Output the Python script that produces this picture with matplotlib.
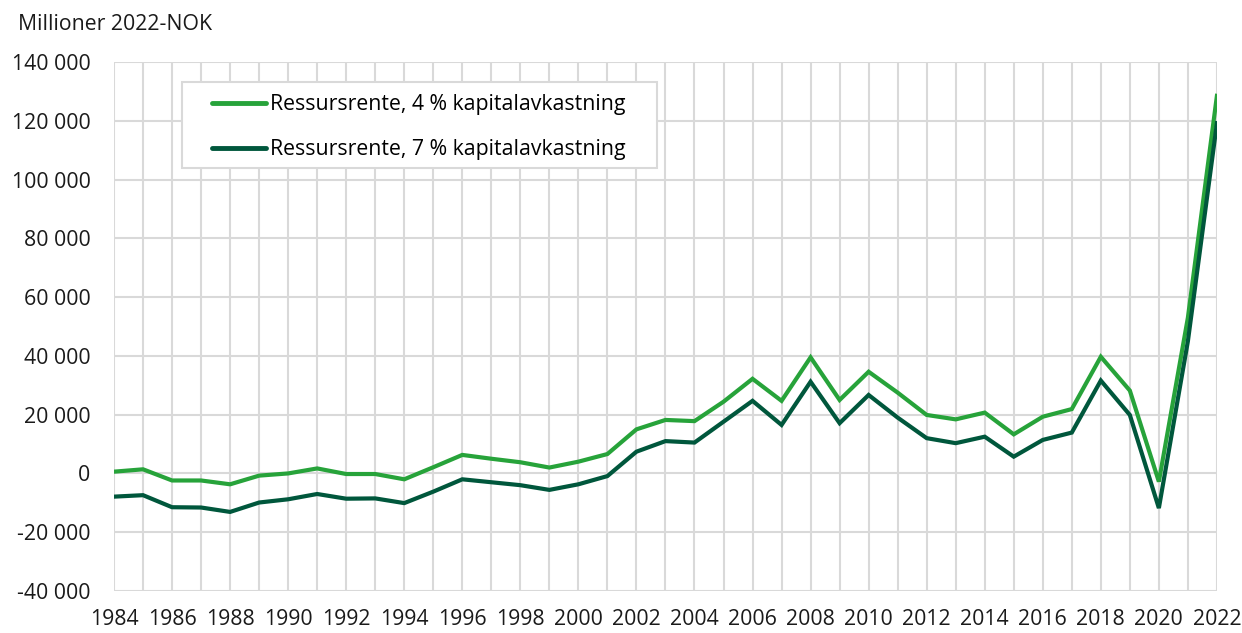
import matplotlib
matplotlib.use("Agg")
import matplotlib.pyplot as plt
from matplotlib.patches import Rectangle
from matplotlib.ticker import FuncFormatter, MultipleLocator

plt.rcParams['font.family'] = ['Open Sans', 'DejaVu Sans']

years = list(range(1984, 2023))

# Ressursrente, millioner 2022-NOK
rente_4 = [600, 1400, -2400, -2400, -3700, -750, 0, 1700, -200, -200,
           -2000, 2100, 6300, 5000, 3800, 2000, 4000, 6600, 15000, 18200,
           17800, 24400, 32200, 24700, 39500, 25000, 34600, 27500, 19900, 18400,
           20700, 13300, 19300, 21900, 39700, 28200, -2800, 53000, 128500]
rente_7 = [-7900, -7400, -11500, -11600, -13100, -9900, -8800, -7000, -8600, -8500,
           -10100, -6200, -2000, -3000, -4000, -5600, -3700, -900, 7400, 11000,
           10500, 17600, 24700, 16500, 31200, 17100, 26700, 19000, 12000, 10300,
           12500, 5700, 11400, 13900, 31600, 19900, -11800, 45000, 119200]

label_4 = "Ressursrente, 4 % kapitalavkastning"
label_7 = "Ressursrente, 7 % kapitalavkastning"

FS = 15.3
grid_col = '#d9d9d9'

fig = plt.figure(figsize=(12.42, 6.33), dpi=100)
ax = fig.add_axes([0.0918, 0.0664, 0.888, 0.8356])

ax.plot(years, rente_4, color='#27a33a', lw=3, label=label_4, solid_joinstyle='miter')
ax.plot(years, rente_7, color='#00573c', lw=3, label=label_7, solid_joinstyle='miter')

ax.set_xlim(1984, 2022)
ax.set_ylim(-40000, 140000)
ax.xaxis.set_major_locator(MultipleLocator(2))
ax.xaxis.set_minor_locator(MultipleLocator(1))
ax.yaxis.set_major_locator(MultipleLocator(20000))
ax.yaxis.set_major_formatter(FuncFormatter(lambda v, p: f"{int(v):,}".replace(",", " ")))

ax.grid(True, which='both', axis='x', color=grid_col, lw=1.5)
ax.grid(True, which='major', axis='y', color=grid_col, lw=1.5)
ax.set_axisbelow(True)
for s in ax.spines.values():
    s.set_visible(False)
ax.tick_params(which='both', length=0, labelsize=FS, colors='#1a1a1a')
ax.tick_params(axis='y', pad=17)
ax.tick_params(axis='x', pad=13)

fig.text(0.0145, 0.962, "Millioner 2022-NOK", fontsize=FS, color='#1a1a1a', va='center', ha='left')

# legend box
ax.add_patch(Rectangle((0.0616, 0.7996), 0.4307, 0.1624, transform=ax.transAxes,
                       facecolor='white', edgecolor=grid_col, lw=1.5, zorder=4))
leg = ax.legend(loc='upper left', bbox_to_anchor=(0.0888, 0.939), borderaxespad=0,
                borderpad=0, fontsize=FS, frameon=False, handlelength=2.55,
                handletextpad=0.2, labelspacing=1.12)
leg.set_zorder(5)
for line in leg.get_lines():
    line.set_linewidth(3.5)
    line.set_solid_capstyle('round')

fig.savefig("out.png", dpi=100)
